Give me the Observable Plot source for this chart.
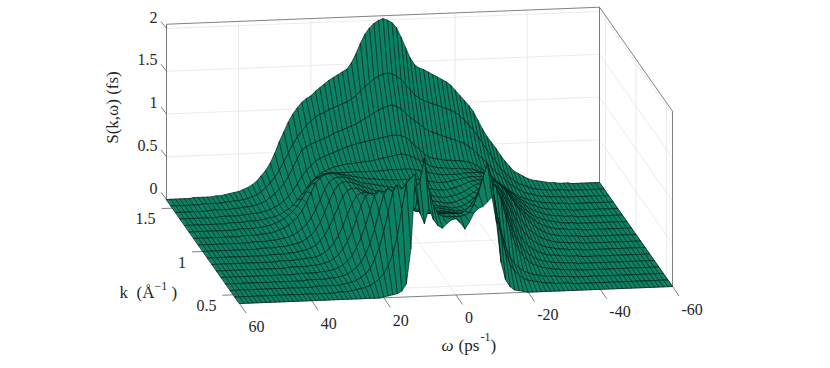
<!DOCTYPE html>
<html><head><meta charset="utf-8">
<script src="https://cdn.jsdelivr.net/npm/d3@7"></script>
<script src="https://cdn.jsdelivr.net/npm/@observablehq/plot@0.6"></script>
<style>html,body{margin:0;padding:0;background:#fff}svg{display:block}</style>
</head><body><div id="chart"></div>
<script>
// k rows, back to front (1/Angstrom)
const kValues = [1.6,1.525,1.45,1.375,1.3,1.225,1.15,1.075,1,0.925,0.85,0.775,0.7,0.625,0.55,0.475,0.4];
const omegaStep = 1.25; // omega columns run 60 ... -60 (1/ps)
const omegaTicks = [60,40,20,0,-20,-40,-60];
const kTicks = [1.5,1,0.5];
const sTicks = [0,0.5,1,1.5,2];
// S(k,omega) per row, in units of about 0.01 fs
const row00=[0,0,0,0,0,0,1,1,1,1,1,2,2,3,4,5,6,8,10,13,17,23,29,37,
48,61,72,83,92,99,105,109,112,117,121,125,129,132,135,138,141,148,158,170,180,187,192,195,
197,195,192,186,175,163,151,143,139,137,134,131,128,125,122,118,112,106,100,94,87,77,67,58,
51,44,36,29,23,17,14,11,8,6,5,4,3,2,2,1,1,1,0,0,0,0,0,0,0];
const row01=[0,0,0,0,0,0,0,1,1,1,1,1,2,2,3,3,4,5,7,9,12,17,22,28,
36,45,55,65,73,80,86,91,95,98,100,103,105,107,109,111,114,118,123,128,132,136,139,141,
142,141,138,134,128,122,116,112,109,107,105,103,101,99,97,94,90,85,79,73,66,58,50,43,
36,29,23,18,14,10,8,6,4,3,2,2,1,1,1,1,0,0,0,0,0,0,0,0,0];
const row02=[0,0,0,0,0,0,0,0,1,1,1,1,1,2,2,3,3,4,5,7,9,13,17,22,
28,36,46,56,66,69,72,74,76,78,80,83,85,87,89,91,93,96,99,102,105,108,110,112,
113,111,108,103,98,94,90,86,82,80,78,76,74,72,70,68,66,62,58,53,48,43,37,32,
27,23,18,14,11,8,6,5,3,2,2,1,1,1,0,0,0,0,0,0,0,0,0,0,0];
const row03=[0,0,0,0,0,0,0,0,0,1,1,1,1,1,2,2,3,3,4,5,7,9,12,16,
21,27,35,43,50,55,60,63,65,67,69,71,73,75,76,78,79,80,81,82,83,84,85,86,
86,85,83,79,73,69,64,60,58,57,56,55,55,54,54,53,52,50,47,43,39,35,30,26,
22,18,14,11,9,7,5,4,3,2,2,1,1,1,0,0,0,0,0,0,0,0,0,0,0];
const row04=[0,0,0,0,0,0,0,0,0,0,1,1,1,1,2,2,2,3,4,5,6,8,11,14,
18,24,30,37,44,49,53,56,58,60,61,62,63,63,64,64,65,65,66,67,68,69,70,71,
72,71,69,67,64,61,58,56,55,54,54,53,53,53,52,52,51,49,47,44,40,36,32,28,
24,20,16,13,10,8,6,4,3,2,2,1,1,1,0,0,0,0,0,0,0,0,0,0,0];
const row05=[0,0,0,0,0,0,0,0,0,0,0,1,1,1,1,2,2,3,4,6,8,11,15,19,
25,33,41,49,55,58,60,61,61,61,61,61,61,61,61,61,61,61,61,61,62,62,62,62,
62,62,61,60,59,57,56,55,54,54,54,54,54,55,55,55,55,54,52,49,45,40,35,30,
25,21,17,13,10,8,6,4,3,2,2,1,1,1,0,0,0,0,0,0,0,0,0,0,0];
const row06=[0,0,0,0,0,0,0,0,0,0,0,1,1,1,1,2,2,3,4,6,8,11,15,20,
27,36,47,58,64,67,68,68,67,66,65,64,63,62,61,60,60,59,59,58,58,58,58,58,
58,58,57,56,55,54,53,53,53,54,55,56,57,58,58,58,58,57,54,51,47,42,36,30,
25,20,16,12,9,7,5,4,3,2,1,1,1,0,0,0,0,0,0,0,0,0,0,0,0];
const row07=[0,0,0,0,0,0,0,0,0,0,0,0,1,1,1,1,2,2,3,4,5,7,10,14,
19,26,35,46,58,66,70,71,71,70,68,66,64,63,62,61,60,59,58,57,57,56,56,56,
56,56,55,54,53,52,52,52,53,54,56,58,60,61,62,62,61,59,56,52,47,41,35,29,
24,19,15,11,8,6,4,3,2,2,1,1,1,0,0,0,0,0,0,0,0,0,0,0,0];
const row08=[0,0,0,0,0,0,0,0,0,0,0,0,0,1,1,1,1,2,2,3,4,5,7,10,
14,20,28,39,52,63,70,73,73,72,70,68,66,64,62,61,60,59,58,57,56,56,55,55,
55,55,54,53,52,51,51,52,53,55,57,60,63,65,67,68,68,66,62,56,49,42,34,27,
21,16,12,9,6,4,3,2,2,1,1,1,0,0,0,0,0,0,0,0,0,0,0,0,0];
const row09=[0,0,0,0,0,0,0,0,0,0,0,0,0,0,1,1,1,1,2,2,3,4,5,7,
10,15,21,30,41,53,64,71,73,73,71,69,66,64,62,61,60,59,58,57,57,56,56,56,
56,56,55,54,53,52,52,53,55,57,60,63,67,70,72,72,70,65,58,50,41,33,26,20,
15,11,8,6,4,3,2,2,1,1,1,0,0,0,0,0,0,0,0,0,0,0,0,0,0];
const row10=[0,0,0,0,0,0,0,0,0,0,0,0,0,0,0,1,1,1,1,2,2,3,3,4,
6,9,13,19,27,38,51,63,72,75,75,73,70,68,65,63,62,60,59,58,58,58,58,58,
58,58,57,56,55,54,54,55,57,60,64,69,74,78,79,76,70,61,51,41,32,24,18,13,
10,7,5,4,3,2,2,1,1,1,0,0,0,0,0,0,0,0,0,0,0,0,0,0,0];
const row11=[0,0,0,0,0,0,0,0,0,0,0,0,0,0,0,0,1,1,1,1,1,2,2,3,
4,6,9,13,19,28,39,53,68,79,82,81,78,75,72,69,67,66,65,64,63,63,62,62,
62,62,61,60,59,58,58,59,61,65,70,76,82,84,81,73,62,50,39,29,21,15,11,8,
6,4,3,3,2,2,1,1,1,0,0,0,0,0,0,0,0,0,0,0,0,0,0,0,0];
const row12=[0,0,0,0,0,0,0,0,0,0,0,0,0,0,0,0,0,1,1,1,1,1,2,2,
3,4,6,9,13,19,28,39,53,70,86,92,90,85,80,76,73,71,70,69,68,67,67,66,
66,66,65,64,63,62,62,64,67,72,79,87,92,88,78,64,50,37,27,19,14,10,7,5,
4,3,2,2,1,1,1,0,0,0,0,0,0,0,0,0,0,0,0,0,0,0,0,0,0];
const row13=[0,0,0,0,0,0,0,0,0,0,0,0,0,0,0,0,0,0,1,1,1,1,1,2,
2,3,4,6,9,13,19,28,40,56,76,95,102,98,90,84,80,77,75,74,73,72,72,72,
72,72,71,70,69,69,70,73,78,85,94,102,98,84,66,49,35,25,18,13,9,7,5,4,
3,2,2,1,1,1,0,0,0,0,0,0,0,0,0,0,0,0,0,0,0,0,0,0,0];
const row14=[0,0,0,0,0,0,0,0,0,0,0,0,0,0,0,0,0,0,0,1,1,1,1,1,
1,2,3,4,6,9,13,19,29,42,60,82,105,113,108,98,90,85,82,80,79,79,78,78,
78,78,78,78,80,85,92,102,112,115,100,78,56,38,26,18,13,9,7,5,4,3,2,2,
2,1,1,1,0,0,0,0,0,0,0,0,0,0,0,0,0,0,0,0,0,0,0,0,0];
const row15=[0,0,0,0,0,0,0,0,0,0,0,0,0,0,0,0,0,0,0,0,0,0,0,1,
1,1,2,3,4,5,7,10,14,20,29,42,62,92,122,128,118,122,150,115,95,86,83,82,
82,82,82,83,86,95,108,125,141,120,85,58,38,25,17,12,8,6,5,4,3,2,2,1,
1,1,1,0,0,0,0,0,0,0,0,0,0,0,0,0,0,0,0,0,0,0,0,0,0];
const row16=[0,0,0,0,0,0,0,0,0,0,0,0,0,0,0,0,0,0,0,0,0,0,0,0,
0,0,0,0,0,0,0,0,1,2,3,4,7,15,55,140,95,83,100,87,80,77,82,86,
87,82,75,83,93,98,100,105,110,80,35,15,7,3,2,1,0,0,0,0,0,0,0,0,
0,0,0,0,0,0,0,0,0,0,0,0,0,0,0,0,0,0,0,0,0,0,0,0,0];
const rows=[row00,row01,row02,row03,row04,row05,row06,row07,row08,row09,row10,row11,row12,row13,row14,row15,row16];
const rawPerFs = 97.7;

// Parallel projection of (omega, k, S) into the chart's x/y units
const omegaLim=[60,-60], kLim=[1.6,0.4], sTop=2.05;
const origin=[166,199], omegaVec=[433,-17], kVec=[73,104], sVec=[0,-85.5];
function project(w,k,s){
  const u=(omegaLim[0]-w)/(omegaLim[0]-omegaLim[1]), t=(kLim[0]-k)/(kLim[0]-kLim[1]);
  return [origin[0]+omegaVec[0]*u+kVec[0]*t+sVec[0]*s, origin[1]+omegaVec[1]*u+kVec[1]*t+sVec[1]*s];
}
const omegaAt=i=>omegaLim[0]-i*omegaStep;

// quads, far to near
const cells=[];
for(let r=0;r<kValues.length-1;r++) for(let c=0;c<rows[r].length-1;c++){
  const corners=[[r,c],[r,c+1],[r+1,c+1],[r+1,c]];
  const depth=d3.mean(corners,([a,b])=>project(omegaAt(b),kValues[a],0)[1]);
  cells.push({corners,depth,id:r+"-"+c});
}
cells.sort((a,b)=>d3.ascending(a.depth,b.depth));
const quadPts=cells.flatMap(q=>q.corners.map(([a,b])=>{
  const [x,y]=project(omegaAt(b),kValues[a],rows[a][b]/rawPerFs);
  return {x,y,id:q.id};
}));

function seg(a,b){const p=project(...a),q=project(...b);return {x1:p[0],y1:p[1],x2:q[0],y2:q[1]};}
const [wA,wB]=omegaLim,[kB,kF]=kLim;
const grid=[
  ...sTicks.flatMap(s=>[seg([wA,kB,s],[wB,kB,s]),seg([wB,kB,s],[wB,kF,s])]),
  ...omegaTicks.flatMap(w=>[seg([w,kB,0],[w,kB,sTop]),seg([w,kF,0],[w,kB,0])]),
  ...kTicks.flatMap(k=>[seg([wB,k,0],[wB,k,sTop]),seg([wA,k,0],[wB,k,0])])
];
const box=[
  seg([wA,kB,0],[wA,kB,sTop]),seg([wB,kB,0],[wB,kB,sTop]),seg([wB,kF,0],[wB,kF,sTop]),
  seg([wA,kB,sTop],[wB,kB,sTop]),seg([wB,kB,sTop],[wB,kF,sTop]),
  seg([wA,kF,0],[wB,kF,0]),seg([wA,kB,0],[wA,kF,0]),seg([wB,kF,0],[wB,kB,0]),seg([wB,kB,0],[wA,kB,0])
];
const tickSegs=[
  ...omegaTicks.map(w=>{const p=project(w,kF,0);return {x1:p[0],y1:p[1],x2:p[0]+6.5,y2:p[1]+9.5};}),
  ...kTicks.map(k=>{const p=project(wA,k,0);return {x1:p[0],y1:p[1],x2:p[0]-11,y2:p[1]+0.4};}),
  ...sTicks.map(s=>{const p=project(wA,kB,s);return {x1:p[0],y1:p[1],x2:p[0]-5.5,y2:p[1]-7};})
];
const ink="#262626";
const font={fontFamily:"Liberation Serif",fill:ink,stroke:"none"};
const tickText=(rows,anchor)=>Plot.text(rows,{x:"x",y:"y",text:"t",textAnchor:anchor,fontSize:16,...font});
const omegaLabels=omegaTicks.map(w=>{const p=project(w,kF,0);return {x:p[0]+9,y:p[1]+23,t:String(w)};});
const kLabels=kTicks.map(k=>{const p=project(wA,k,0);return {x:p[0]-17,y:p[1]+11,t:String(k)};});
const sLabels=sTicks.map(s=>{const p=project(wA,kB,s);return {x:p[0]-9,y:p[1]-11,t:String(s)};});
const txt=(x,y,t,o={})=>Plot.text([{x,y,t}],{x:"x",y:"y",text:"t",textAnchor:"start",fontSize:17,...font,...o});

const chart=Plot.plot({
  width:830,height:368,margin:0,
  x:{domain:[0,830],range:[0,830],axis:null},
  y:{domain:[0,368],range:[0,368],axis:null},
  marks:[
    Plot.link(grid,{x1:"x1",y1:"y1",x2:"x2",y2:"y2",stroke:"#e6e6e6",strokeWidth:0.8}),
    Plot.link(box,{x1:"x1",y1:"y1",x2:"x2",y2:"y2",stroke:"#4a4a4a",strokeWidth:0.7}),
    Plot.link(tickSegs,{x1:"x1",y1:"y1",x2:"x2",y2:"y2",stroke:"#4a4a4a",strokeWidth:0.7}),
    Plot.line(quadPts,{x:"x",y:"y",z:"id",curve:"linear-closed",fill:"#0b8263",stroke:"#021a13",strokeWidth:0.65,strokeLinejoin:"round"}),
    tickText(omegaLabels,"start"),
    tickText(kLabels,"end"),
    tickText(sLabels,"end"),
    txt(112,107,"S(k,ω) (fs)",{rotate:-90,textAnchor:"middle"}),
    txt(119,292,"k"),txt(136,292,"(Å"),txt(154,286,"−1",{fontSize:12}),txt(171,292,")"),
    txt(441,345,"ω",{fontStyle:"italic"}),txt(458,345,"(ps"),txt(480,337,"-1",{fontSize:12}),txt(490,345,")")
  ]
});
document.getElementById("chart").appendChild(chart);
</script></body></html>
